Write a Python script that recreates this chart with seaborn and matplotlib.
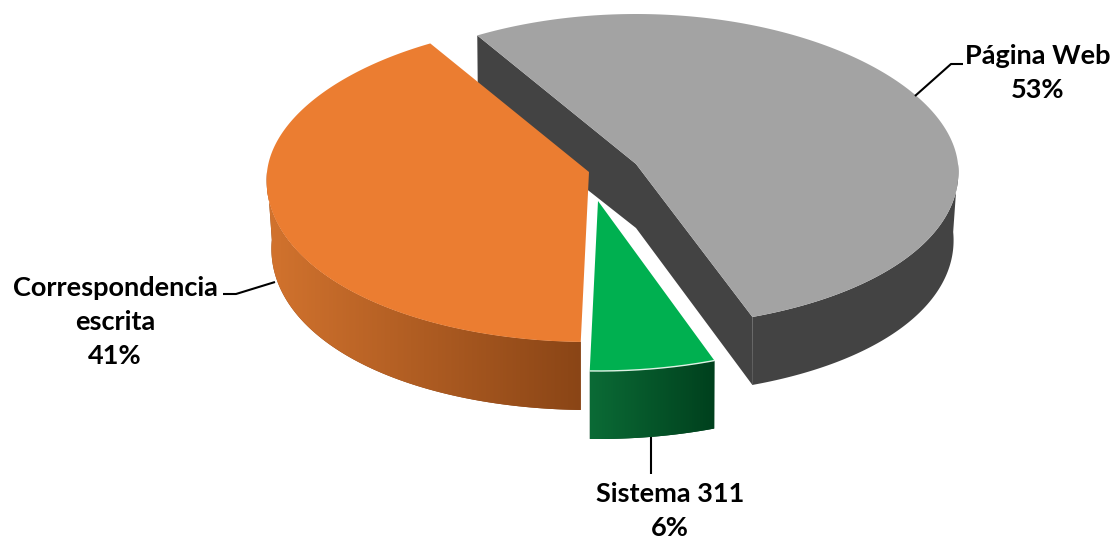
import numpy as np
import matplotlib
matplotlib.use("Agg")
import matplotlib.pyplot as plt
from matplotlib.colors import LinearSegmentedColormap
from matplotlib.patches import Polygon
import seaborn as sns

# Data
categories = ["Página Web", "Sistema 311", "Correspondencia\nescrita"]
values = [53, 6, 41]

# Style
top_colors = ["#A3A3A3", "#00B050", "#EB7D31"]
wall_colors = [("#434343", "#434343"), ("#0B6B36", "#00401D"), ("#D2732E", "#8A4516")]
apexes = [(636, 164), (598, 201), (589, 172)]
front_heights = [163, 170, 170]
label_pos = [(1038, 73), (670, 511), (115, 322)]
leaders = [[(915, 96), (951, 64), (963, 64)],
           [(651, 437), (651, 474)],
           [(275, 282), (236, 294), (223, 294)]]
RX, RY_BACK, PERSPECTIVE = 322, 150, 0.05
DEPTH, BOTTOM_SHRINK = 68, 0.015

sns.set_theme(style="white")
plt.rcParams["font.family"] = ["Lato", "DejaVu Sans"]

fig = plt.figure(figsize=(11.14, 5.4), dpi=100)
ax = fig.add_axes([0, 0, 1, 1])

# pie gives the slice angles, the tilted slices are rebuilt from them
wedges, _ = ax.pie(values, startangle=121, counterclock=False, colors=top_colors)
angles = [(w.theta1 % 360, w.theta2 % 360) for w in wedges]
for w in wedges:
    w.remove()


def rim(apex, ry_front, t1, t2, depth=0, shrink=0.0):
    t = np.radians(np.linspace(t1, t2, 200))
    s, c = np.sin(t), np.cos(t)
    ry = np.where(s > 0, RY_BACK, ry_front)
    return np.column_stack([apex[0] + RX * (1 - shrink * c**2) * c * (1 - PERSPECTIVE * s),
                            apex[1] - ry * s + depth])


for (t1, t2), apex, ry, top, wall in zip(angles, apexes, front_heights, top_colors, wall_colors):
    if t2 < t1:
        t2 += 360
    # front part of the outer wall
    lo, hi = max(t1, 180), min(t2, 360)
    upper = rim(apex, ry, lo, hi)
    lower = rim(apex, ry, lo, hi, DEPTH, BOTTOM_SHRINK)
    wall_pts = np.vstack([upper, lower[::-1]])

    # cut faces, only the big slice shows them
    if top == top_colors[0]:
        low_apex = (apex[0], apex[1] + DEPTH - 4)
        start = rim(apex, ry, t1, t1)[0]
        end = rim(apex, ry, t2, t2)[0]
        end_low = rim(apex, ry, t2, t2, DEPTH, BOTTOM_SHRINK)[0]
        ax.add_patch(Polygon([start, apex, end, end_low, low_apex,
                              start + [0, DEPTH]], color=wall[0], lw=0, zorder=1))

    patch = Polygon(wall_pts, color=wall[1], lw=0, zorder=2)
    ax.add_patch(patch)
    if wall[0] != wall[1]:
        cmap = LinearSegmentedColormap.from_list("wall", wall)
        x0, x1 = wall_pts[:, 0].min(), wall_pts[:, 0].max()
        y0, y1 = wall_pts[:, 1].min(), wall_pts[:, 1].max()
        im = ax.imshow(np.linspace(0, 1, 256)[None, :], cmap=cmap, aspect="auto",
                       extent=(x0, x1, y1, y0), zorder=2.1)
        im.set_clip_path(patch)

    top_pts = np.vstack([[apex], rim(apex, ry, t1, t2)])
    ax.add_patch(Polygon(top_pts, color=top, lw=0, zorder=3))
    # light bevel on the small slice
    if top == top_colors[1]:
        ax.plot(upper[:, 0], upper[:, 1], color="#DFF3E6", lw=1.0, zorder=3.1)

ax.set_aspect("auto")
ax.set_xlim(0, 1114)
ax.set_ylim(540, 0)
ax.axis("off")

for cat, val, pos, line in zip(categories, values, label_pos, leaders):
    xs, ys = zip(*line)
    ax.plot(xs, ys, color="black", lw=1.5, zorder=4, solid_capstyle="butt")
    ax.text(pos[0], pos[1], f"{cat}\n{val}%", ha="center", va="center",
            fontsize=19.5, fontweight="bold", color="black", linespacing=1.5, zorder=5)

fig.savefig("out.png", dpi=100, facecolor="white")
